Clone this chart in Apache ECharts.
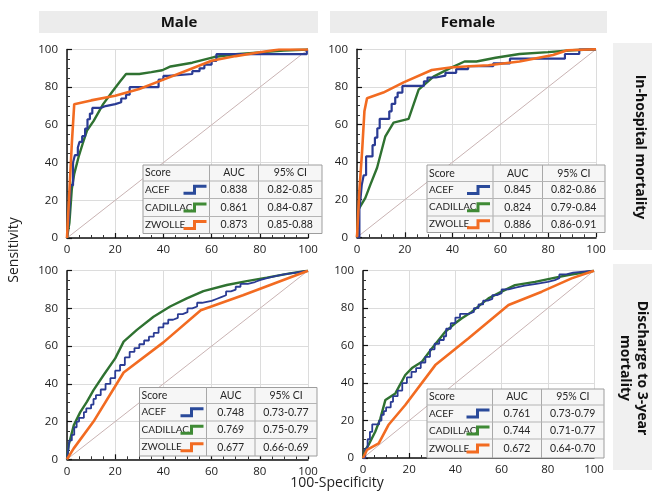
<!DOCTYPE html>
<html><head><meta charset="utf-8">
<script src="https://cdn.jsdelivr.net/npm/echarts/dist/echarts.min.js"></script>
<style>html,body{margin:0;padding:0;background:#fff}#c{width:652px;height:491px}</style>
</head><body><div id="c"></div><script>
// ---- data ----
const axisTicks = [0, 20, 40, 60, 80, 100];
const sexes = ['Male', 'Female'];
const outcomes = ['In-hospital mortality', 'Discharge to 3-year\nmortality'];
const scores = ['ACEF', 'CADILLAC', 'ZWOLLE'];
const tableHeader = ['Score', 'AUC', '95% CI'];
const aucMaleHosp = ['0.838', '0.861', '0.873'];
const ciMaleHosp = ['0.82-0.85', '0.84-0.87', '0.85-0.88'];
const aucFemaleHosp = ['0.845', '0.824', '0.886'];
const ciFemaleHosp = ['0.82-0.86', '0.79-0.84', '0.86-0.91'];
const aucMale3y = ['0.748', '0.769', '0.677'];
const ciMale3y = ['0.73-0.77', '0.75-0.79', '0.66-0.69'];
const aucFemale3y = ['0.761', '0.744', '0.672'];
const ciFemale3y = ['0.73-0.79', '0.71-0.77', '0.64-0.70'];
const diagonal = [[0, 0], [100, 100]];

// Male, in-hospital
const acefMaleHosp = [[0,0],[0.8,10],[1.5,28],[2.5,40],[3.3,44],[4.5,48],[5.2,51],[6.3,54],[7.5,58],[8.5,63],[9.5,66],[10.5,69],[14,70],[16,71],[20,72],[22.5,74],[24.5,76],[26,80],[38,84],[40,86],[42,87],[52,88.5],[55,90],[57,92],[60,94],[62,97.5],[99.5,100],[100,100]];
const cadMaleHosp = [[0,0],[1,8],[2,26],[3,34],[4.8,43],[6.5,50],[8.3,57],[11,62],[15,71],[19,78],[22,83],[24.5,87],[30,87],[35,88],[39.5,89],[43,91],[52,93],[61,96],[70,97.5],[80,98.5],[90,99.5],[100,100]];
const zwoMaleHosp = [[0,0],[1,25],[2,50],[3,71],[10,73],[20,75.5],[30,79],[40,84],[50,89],[60,94],[70,96.5],[80,98.5],[88,100],[100,100]];
// Female, in-hospital
const acefFemaleHosp = [[0,0],[1,15],[1.5,21],[2,28],[2.8,33],[3.8,43],[6.5,49],[7.5,53],[8.5,58],[9.5,63],[13.5,67],[14.5,71],[16,74.5],[17,77],[19,80.5],[28,83],[29.5,85],[33,86],[37,87.5],[41.5,89.5],[46.5,91],[57,92.5],[64,95],[87,97.5],[93,100],[100,100]];
const cadFemaleHosp = [[0,0],[0.7,15],[3.5,21],[5.6,28],[8.4,37],[11.8,53.5],[15.3,61],[21.6,63],[25.8,78.5],[32,85.5],[39,90],[45,93.5],[50,93.5],[58,95.5],[68,97.5],[80,98.5],[90,99.5],[100,100]];
const zwoFemaleHosp = [[0,0],[1,25],[2.1,45],[3.1,67],[4.2,74],[11,77],[19.5,82.4],[31.3,89],[39,90.3],[47,91],[55,91.5],[68,93.5],[82,97],[88,99.5],[100,100]];
// Male, discharge to 3-year
const acefMale3y = [[0,0],[0.5,5],[1,10],[2,13],[3,17],[4,20],[5,22],[7,25],[8,27],[10,29],[11,32],[12,34],[14,37],[16,40],[18,43],[20,47],[22,50],[24,54],[26,57],[28,59],[30,61],[32,63],[34,65],[36,67],[38,70],[40,72],[42,74],[44,75],[46,77],[48,78],[50,80],[52,81],[54,83],[56,84],[60,85],[62,86],[64,87],[66,89],[68,90],[70,91.5],[72,93],[75,94],[78,95],[80,96],[83,97],[86,98],[90,99],[95,100],[100,100]];
const cadMale3y = [[0,0],[0.7,7.6],[2.8,18],[5.5,25],[8.3,30.6],[11,36.7],[15.2,44.7],[20,53.5],[23.5,62.4],[29,68.6],[35.9,75.6],[42.8,81],[49.7,85.3],[56.6,89.2],[66.3,92.4],[74.6,94.5],[82.9,96.3],[92.5,98.6],[100,100]];
const zwoMale3y = [[0,0],[2.8,5.8],[11,20],[23.5,46],[40,62],[55.5,79],[73,87],[100,100]];
// Female, discharge to 3-year
const acefFemale3y = [[0,0],[1,5],[2,10],[3,14],[4,18],[7,20],[8,23],[9,25],[10,27],[12,30],[13,33],[15,36],[17,40],[19,43],[21,46],[23,48],[25,51],[27,54],[29,58],[31,61],[33,63],[35,65],[36,69],[38,72],[40,75],[42,77],[46,78],[48,80],[50,82],[52,84],[54,85],[56,87],[58,88],[60,90],[63,91],[66,92],[70,93],[75,94],[80,95],[83,96],[85,98],[88,99],[91,100],[100,100]];
const cadFemale3y = [[0,0],[1,4.3],[2.4,7],[5.3,14],[7.5,21],[9.7,31],[14,34.5],[18.3,44.3],[21.2,48],[25.5,51.4],[29.8,58.5],[35.6,67.4],[39.9,71.9],[42.8,74.6],[47,78],[54.3,85.2],[60,88.8],[65.8,92.3],[74.5,94],[81.7,95.9],[88.9,97.7],[100,100]];
const zwoFemale3y = [[0,0],[1.7,4.3],[6.8,7.8],[11,17.6],[18.3,28.3],[31.3,49.6],[45.7,63.9],[63,81.7],[77.4,88.8],[90.3,95.9],[100,100]];

// ---- layout ----
const colors = { ACEF: '#2a3b94', CADILLAC: '#2f7231', ZWOLLE: '#f26b21' };
const iconColors = { ACEF: '#2a4a9a', CADILLAC: '#3f8a35', ZWOLLE: '#f26b21' };
const panels = [
  { grid: { left: 67, top: 49.5, width: 241, height: 188.5 }, acef: acefMaleHosp, cad: cadMaleHosp, zwo: zwoMaleHosp, auc: aucMaleHosp, ci: ciMaleHosp, acefW: 2.2,
    table: { x: 143, y: 165, c1: 209.5, c2: 258.5, r: 322, rows: [181, 198.5, 216.5], b: 233.5 } },
  { grid: { left: 357, top: 49.3, width: 239, height: 188 }, acef: acefFemaleHosp, cad: cadFemaleHosp, zwo: zwoFemaleHosp, auc: aucFemaleHosp, ci: ciFemaleHosp, acefW: 2.2,
    table: { x: 427, y: 165, c1: 493, c2: 542.5, r: 605, rows: [181.5, 198.5, 216], b: 232.5 } },
  { grid: { left: 67, top: 270.7, width: 241, height: 188.6 }, acef: acefMale3y, cad: cadMale3y, zwo: zwoMale3y, auc: aucMale3y, ci: ciMale3y, acefW: 1.8,
    table: { x: 139.5, y: 387.5, c1: 206.5, c2: 255, r: 317, rows: [403.5, 421, 438.5], b: 456 } },
  { grid: { left: 363, top: 270.7, width: 231, height: 187.3 }, acef: acefFemale3y, cad: cadFemale3y, zwo: zwoFemale3y, auc: aucFemale3y, ci: ciFemale3y, acefW: 1.8,
    table: { x: 427, y: 389, c1: 492.5, c2: 541.5, r: 604, rows: [405, 422, 439], b: 458 } }
];

const FONT = 'Lato, "Open Sans", sans-serif';
const grids = [], xAxes = [], yAxes = [], series = [], graphic = [];

panels.forEach((p, i) => {
  grids.push(p.grid);
  const common = {
    min: axisTicks[0], max: axisTicks[axisTicks.length - 1], interval: axisTicks[1] - axisTicks[0],
    gridIndex: i,
    axisLine: { show: true, lineStyle: { color: '#111', width: 1.5 } },
    axisTick: { show: true, inside: true, length: 5, lineStyle: { color: '#111', width: 1.2 } },
    minorTick: { show: true, splitNumber: 4, length: 3, lineStyle: { color: '#333', width: 1 } },
    splitLine: { show: true, lineStyle: { color: '#dcdcdc', width: 1 } },
    axisLabel: { color: '#222', fontSize: 11.5, fontFamily: '"Open Sans", sans-serif' }
  };
  xAxes.push(Object.assign({}, common, { type: 'value', offset: 3, axisLabel: Object.assign({}, common.axisLabel, { margin: 3 }) }));
  yAxes.push(Object.assign({}, common, { type: 'value', offset: 4, axisLabel: Object.assign({}, common.axisLabel, { margin: 5 }) }));
  series.push({ type: 'line', xAxisIndex: i, yAxisIndex: i, data: diagonal, symbol: 'none', silent: true,
    lineStyle: { color: '#c9b3b3', width: 1 } });
  series.push({ type: 'line', xAxisIndex: i, yAxisIndex: i, data: p.cad, symbol: 'none', name: 'CADILLAC',
    lineStyle: { color: colors.CADILLAC, width: 2.4 } });
  series.push({ type: 'line', xAxisIndex: i, yAxisIndex: i, data: p.acef, symbol: 'none', step: 'end', name: 'ACEF',
    lineStyle: { color: colors.ACEF, width: p.acefW } });
  series.push({ type: 'line', xAxisIndex: i, yAxisIndex: i, data: p.zwo, symbol: 'none', name: 'ZWOLLE',
    lineStyle: { color: colors.ZWOLLE, width: 2.6 } });

  // table
  const t = p.table;
  const Z = 100;
  graphic.push({ type: 'rect', z: Z, shape: { x: t.x, y: t.y, width: t.r - t.x, height: t.b - t.y },
    style: { fill: '#f6f6f6', stroke: '#9d9d9d', lineWidth: 1 } });
  [t.c1, t.c2].forEach(cx => graphic.push({ type: 'line', z: Z, shape: { x1: cx, y1: t.y, x2: cx, y2: t.b }, style: { stroke: '#a8a8a8', lineWidth: 1 } }));
  t.rows.forEach(ry => graphic.push({ type: 'line', z: Z, shape: { x1: t.x, y1: ry, x2: t.r, y2: ry }, style: { stroke: '#b4b4b4', lineWidth: 1 } }));
  const rowTops = [t.y].concat(t.rows), rowBots = t.rows.concat([t.b]);
  const mid = k => (rowTops[k] + rowBots[k]) / 2;
  const txt = (s, x, y, align, size) => graphic.push({ type: 'text', z: Z + 1,
    style: { text: s, x: x, y: y, textAlign: align, textVerticalAlign: 'middle', verticalAlign: 'middle', fill: '#262626', font: size + 'px ' + FONT } });
  txt(tableHeader[0], t.x + 2, mid(0), 'left', 10.5);
  txt(tableHeader[1], (t.c1 + t.c2) / 2, mid(0), 'center', 10.5);
  txt(tableHeader[2], (t.c2 + t.r) / 2, mid(0), 'center', 10.5);
  scores.forEach((s, k) => {
    const yc = mid(k + 1);
    txt(s, t.x + 2, yc, 'left', 10);
    txt(p.auc[k], (t.c1 + t.c2) / 2, yc, 'center', 10.5);
    txt(p.ci[k], (t.c2 + t.r) / 2, yc, 'center', 10.5);
    const x1 = t.c1 - 3;
    graphic.push({ type: 'polyline', z: Z + 2, shape: { points: [[x1 - 23, yc + 3.5], [x1 - 12, yc + 3.5], [x1 - 12, yc - 3.5], [x1, yc - 3.5]] },
      style: { stroke: iconColors[s], lineWidth: 3, fill: null } });
  });
});

// header bands
const topBands = [{ x: 39, w: 279, cx: 179 }, { x: 330, w: 277, cx: 468 }];
sexes.forEach((s, i) => {
  const b = topBands[i];
  graphic.push({ type: 'rect', z: 1, shape: { x: b.x, y: 11, width: b.w, height: 22 }, style: { fill: '#ececec' } });
  graphic.push({ type: 'text', z: 2, style: { text: s, x: b.cx, y: 22.5, textAlign: 'center', textVerticalAlign: 'middle', verticalAlign: 'middle', fill: '#111', font: 'bold 15px "Open Sans", sans-serif' } });
});
const sideBands = [{ y: 43, h: 207, cy: 147, cx: 640 }, { y: 264, h: 206, cy: 368, cx: 633 }];
outcomes.forEach((s, i) => {
  const b = sideBands[i];
  graphic.push({ type: 'rect', z: 1, shape: { x: 613, y: b.y, width: 40, height: b.h }, style: { fill: '#f0f0f0' } });
  graphic.push({ type: 'text', z: 2, x: b.cx, y: b.cy, rotation: -Math.PI / 2,
    style: { text: s, x: 0, y: 0, textAlign: 'center', textVerticalAlign: 'middle', verticalAlign: 'middle', fill: '#111', font: 'bold 14px "Open Sans", sans-serif', lineHeight: 17 } });
});
graphic.push({ type: 'text', z: 2, x: 14, y: 250, rotation: Math.PI / 2,
  style: { text: 'Sensitivity', x: 0, y: 0, textAlign: 'center', textVerticalAlign: 'middle', verticalAlign: 'middle', fill: '#222', font: '14px "Open Sans", sans-serif' } });
graphic.push({ type: 'text', z: 2, x: 337, y: 483,
  style: { text: '100-Specificity', x: 0, y: 0, textAlign: 'center', textVerticalAlign: 'middle', verticalAlign: 'middle', fill: '#222', font: '14px "Open Sans", sans-serif' } });

const chart = echarts.init(document.getElementById('c'), null, { renderer: 'canvas' });
chart.setOption({
  animation: false,
  backgroundColor: '#fff',
  grid: grids, xAxis: xAxes, yAxis: yAxes, series: series, graphic: graphic
});
</script></body></html>
